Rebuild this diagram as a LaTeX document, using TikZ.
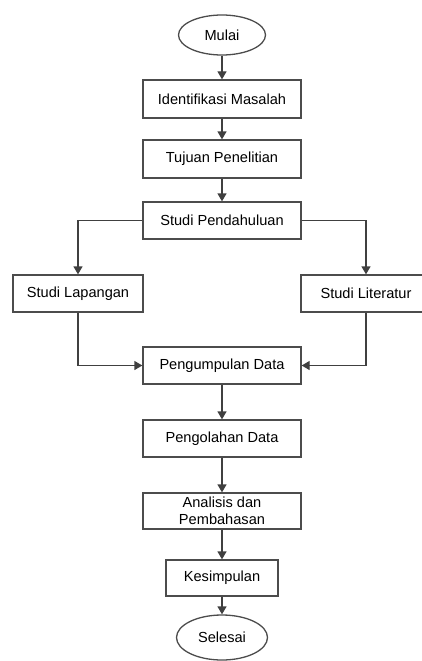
\documentclass[tikz,border=0pt]{standalone}
\usepackage{fontspec}
\setmainfont{Liberation Sans}
\usetikzlibrary{arrows.meta,positioning,calc,shapes.geometric}

\begin{document}
\begin{tikzpicture}[x = 1pt, y = -1pt, font = \fontsize{14.6}{17}\selectfont,
  line width = 1.3pt,
  proses/.style = {draw = black!70, fill = white, rectangle, minimum height = 37pt, inner sep = 0pt, align = center},
  terminal/.style = {draw = black!70, fill = white, ellipse, inner sep = 0pt},
  panah/.style = {draw = black!75, -{Triangle[width = 9pt, length = 8pt]}}]
\useasboundingbox (0, 0) rectangle (422, 661);
\node[terminal, minimum width = 87pt, minimum height = 40pt] (mulai) at (222, 35) {Mulai};
\node[proses, minimum width = 158pt, minimum height = 38pt] (identifikasi) at (222, 99) {Identifikasi Masalah};
\node[proses, minimum width = 158pt, minimum height = 38pt] (tujuan) at (222, 159) {Tujuan Penelitian};
\node[proses, minimum width = 158pt] (pendahuluan) at (222, 220.5) {Studi Pendahuluan};
\node[proses, minimum width = 130pt] (lapangan) at (78, 293.5) {Studi Lapangan};
\node[proses, minimum width = 130pt] (literatur) at (366, 293.5) {Studi Literatur};
\node[proses, minimum width = 158pt] (pengumpulan) at (222, 365.5) {Pengumpulan Data};
\node[proses, minimum width = 158pt] (pengolahan) at (222, 438.5) {Pengolahan Data};
\node[proses, minimum width = 158pt, minimum height = 36pt] (analisis) at (222, 511) {Analisis dan\\Pembahasan};
\node[proses, minimum width = 112pt, minimum height = 36pt] (kesimpulan) at (222, 578) {Kesimpulan};
\node[terminal, minimum width = 91pt, minimum height = 45pt] (selesai) at (222, 637.5) {Selesai};
\draw[panah] (mulai) -- (identifikasi);
\draw[panah] (identifikasi) -- (tujuan);
\draw[panah] (tujuan) -- (pendahuluan);
\draw[panah] (pendahuluan.west) -| (lapangan);
\draw[panah] (pendahuluan.east) -| (literatur);
\draw[panah] (lapangan) |- (pengumpulan);
\draw[panah] (literatur) |- (pengumpulan);
\draw[panah] (pengumpulan) -- (pengolahan);
\draw[panah] (pengolahan) -- (analisis);
\draw[panah] (analisis) -- (kesimpulan);
\draw[panah] (kesimpulan) -- (selesai);
\end{tikzpicture}
\end{document}
